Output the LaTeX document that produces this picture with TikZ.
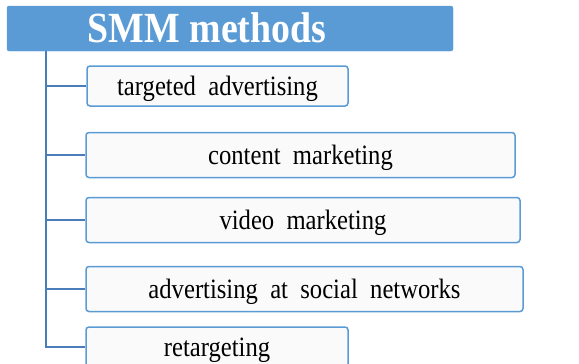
\documentclass[tikz,border=0pt]{standalone}
\usepackage{fontspec}
\setmainfont[FakeStretch=0.88]{Liberation Serif}
\usetikzlibrary{calc, positioning}
\definecolor{headblue}{RGB}{91,155,213}
\definecolor{lineblue}{RGB}{74,126,187}
\tikzstyle{head}=[draw=headblue, fill=headblue, rounded corners=2pt, minimum width=446pt, minimum height=45pt, inner sep=0pt]
\tikzstyle{item}=[draw=headblue, line width=1.5pt, fill=white!98!black, rounded corners=3pt, inner sep=0pt, text height=21pt, text depth=3pt, font=\fontsize{28}{32}\selectfont]
\tikzstyle{link}=[draw=lineblue, line width=1.8pt]

\begin{document}
\begin{tikzpicture}[x=1pt,y=-1pt]
      \useasboundingbox (0,0) rectangle (579,364);
      \node [head] (h) at (230,28.5) {};
      \node [font=\fontsize{43}{46}\bfseries\selectfont, text=white, text height=30pt, text depth=3pt] (t) at (207,28.5) {SMM methods};
      \node [item, minimum width=261pt, minimum height=40pt] (b1) at (217.5,86) {targeted\ \ advertising};
      \node [item, minimum width=429pt, minimum height=45pt] (b2) at (300.5,155) {content\ \ marketing};
      \node [item, minimum width=434pt, minimum height=45pt] (b3) at (303,220) {video\ \ marketing};
      \node [item, minimum width=437pt, minimum height=45pt] (b4) at (304.5,289) {advertising\ \ at\ \ social\ \ networks};
      \node [item, minimum width=262pt, minimum height=40pt] (b5) at (217,347) {retargeting};
      \coordinate (top) at (46,51);
      \foreach \b in {b1,b2,b3,b4}
        \draw [link] (top |- \b.west) -- (\b.west);
      \draw [link] (top) |- (b5.west);
  \end{tikzpicture}
\end{document}
